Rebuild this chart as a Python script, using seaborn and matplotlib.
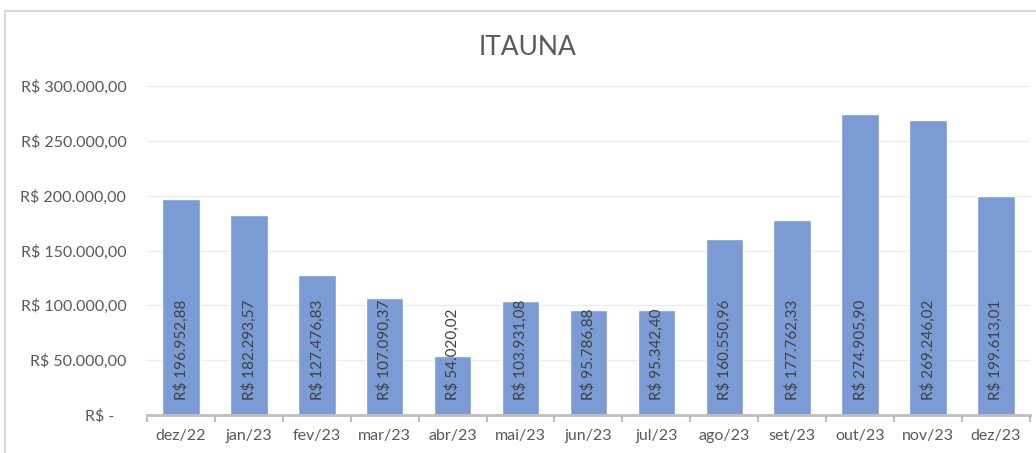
import numpy as np
import pandas as pd
import matplotlib
matplotlib.use("Agg")
import matplotlib.pyplot as plt
import matplotlib.transforms as mtransforms
from matplotlib.patches import Rectangle
import seaborn as sns

# dados
meses = ['dez/22', 'jan/23', 'fev/23', 'mar/23', 'abr/23', 'mai/23', 'jun/23',
         'jul/23', 'ago/23', 'set/23', 'out/23', 'nov/23', 'dez/23']
valores = [196952.88, 182293.57, 127476.83, 107090.37, 54020.02, 103931.08, 95786.88,
           95342.40, 160550.96, 177762.33, 274905.90, 269246.02, 199613.01]
y_ticks = [0, 50000, 100000, 150000, 200000, 250000, 300000]


def brl(v):
    s = f"{v:,.2f}".replace(",", "X").replace(".", ",").replace("X", ".")
    return "R$ " + s


sns.set_theme(style="white")
plt.rcParams['font.family'] = ['Lato', 'DejaVu Sans']

df = pd.DataFrame({'Mes': meses, 'Valor': valores})

fig = plt.figure(figsize=(10.36, 4.53), dpi=100)
ax = fig.add_axes([0.142, 0.084, 0.852, 0.726])

sns.barplot(data=df, x='Mes', y='Valor', order=meses, color='#7A9BD4',
            saturation=1, width=0.55, ax=ax)

ax.set_ylim(0, 300000)
ax.set_xlim(-0.5, len(meses) - 0.5)
ax.set_yticks(y_ticks)
ax.set_yticklabels(['R$ -   '] + [brl(v) for v in y_ticks[1:]])
ax.yaxis.grid(True, color='#EBEBEB', linewidth=1)
ax.set_axisbelow(True)
ax.set_xlabel('')
ax.set_ylabel('')

for s in ['top', 'right', 'left']:
    ax.spines[s].set_visible(False)
ax.spines['bottom'].set_color('#BFBFBF')
ax.spines['bottom'].set_linewidth(2)

ax.tick_params(axis='y', length=0, pad=15, labelsize=11.5, labelcolor='#595959')
ax.tick_params(axis='x', which='major', length=0, pad=10, labelsize=11.5, labelcolor='#595959')
ax.set_xticks(np.arange(-0.5, len(meses)), minor=True)
ax.tick_params(axis='x', which='minor', length=5, width=1.5, color='#BFBFBF', bottom=True)

trans = mtransforms.blended_transform_factory(ax.transData, ax.transAxes)
for i, v in enumerate(valores):
    ax.text(i, 0.046, brl(v), rotation=90, ha='center', va='bottom',
            fontsize=11, color='#404040', transform=trans)

fig.text(0.509, 0.895, 'ITAUNA', ha='center', va='center', fontsize=19, color='#595959')

fig.patches.append(Rectangle((0.005, -0.01), 1.0, 0.985, transform=fig.transFigure,
                             fill=False, edgecolor='#D9D9D9', linewidth=1.5))

fig.savefig('out.png', dpi=100, facecolor='white')
